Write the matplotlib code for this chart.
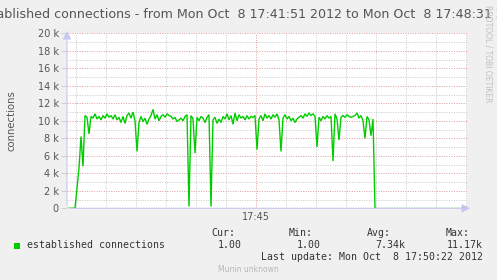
import numpy as np
import matplotlib
matplotlib.use("Agg")
import matplotlib.pyplot as plt

# ---- data ----
title_text = "established connections - from Mon Oct  8 17:41:51 2012 to Mon Oct  8 17:48:31 2012"
y_label = "connections"
series_name = "established connections"
x_span_sec = 400          # 17:41:51 -> 17:48:31
x_tick_sec = [189]        # 17:45:00
x_tick_labels = ["17:45"]
y_ticks = [0, 2, 4, 6, 8, 10, 12, 14, 16, 18, 20]
y_tick_labels = ["0", "2 k", "4 k", "6 k", "8 k", "10 k", "12 k", "14 k", "16 k", "18 k", "20 k"]
step_sec = 2
# values in thousands, sampled every 2 s from 17:41:51
values_k = [
    0, 0, 0, 0, 0,
    2.3, 4.6, 8.2, 4.8, 10.6, 10.4, 8.5, 10.5, 10.3, 10.8,
    10.2, 10.5, 10.1, 10.6, 10.3, 10.8, 10.4, 10.6, 10.2, 10.7,
    10.1, 10.4, 9.8, 10.5, 9.7, 10.6, 10.9, 10.3, 11.0, 10.0,
    6.5, 9.8, 10.5, 9.9, 10.3, 9.6, 10.2, 10.6, 11.3, 10.2,
    10.7, 10.0, 10.5, 10.7, 10.4, 10.8, 10.6, 10.5, 10.2, 10.4,
    9.9, 10.1, 10.3, 10.0, 10.5, 10.7, 0.2, 10.6, 10.2, 6.3,
    10.4, 10.0, 10.5, 10.3, 9.8, 10.4, 10.7, 0.2, 10.1, 10.4,
    9.7, 10.2, 9.8, 10.5, 10.2, 10.8, 10.1, 10.6, 9.6, 10.9,
    10.0, 10.7, 10.3, 10.5, 10.1, 10.6, 10.2, 10.5, 10.4, 10.6,
    6.7, 10.2, 10.6, 10.0, 10.8, 10.3, 10.6, 10.2, 10.7, 10.4,
    10.8, 10.1, 6.5, 10.3, 10.7, 10.2, 10.5, 10.0, 10.3, 9.8,
    10.2, 10.4, 10.6, 10.3, 10.8, 10.5, 10.9, 10.6, 10.8, 10.5,
    7.0, 10.4, 10.0, 10.5, 10.2, 10.6, 10.3, 10.5, 5.4, 10.8,
    10.2, 7.8, 10.4, 10.6, 10.4, 10.7, 10.5, 10.4, 10.5, 10.6,
    10.9, 10.3, 10.6, 10.0, 8.0, 10.5, 10.1, 8.3, 10.2, 0,
]
tail_sec = [308, 400]
tail_k = [0, 0]
legend_heads = ["Cur:", "Min:", "Avg:", "Max:"]
legend_vals = ["1.00", "1.00", "7.34k", "11.17k"]
last_update = "Last update: Mon Oct  8 17:50:22 2012"
footer = "Munin unknown"
watermark = "RRDTOOL / TOBI OETIKER"

# ---- figure ----
W, H = 497, 280
fig = plt.figure(figsize=(W / 100, H / 100), dpi=100)
fig.patch.set_facecolor("#f0f0f0")

L, R, T, B = 67, 467, 33.3, 208.3
ax = fig.add_axes([L / W, 1 - B / H, (R - L) / W, (B - T) / H])
ax.set_facecolor("white")
ax.set_xlim(0, x_span_sec)
ax.set_ylim(0, 20)

# grid
for v in range(1, 20, 2):
    ax.axhline(v, color="#c8c8c8", lw=0.7, ls=(0, (1, 1.5)), zorder=1)
for v in y_ticks[1:]:
    ax.axhline(v, color="#e09a9a", lw=0.7, ls=(0, (1, 1.5)), zorder=1)
for s in range(9, x_span_sec + 1, 30):
    if s in x_tick_sec:
        ax.axvline(s, color="#e09a9a", lw=0.7, ls=(0, (1, 1.5)), zorder=1)
    else:
        ax.axvline(s, color="#c8c8c8", lw=0.7, ls=(0, (1, 1.5)), zorder=1)

for sp in ax.spines.values():
    sp.set_visible(False)

t = np.arange(len(values_k)) * step_sec
ax.plot(t, values_k, color="#00cc00", lw=1.0, zorder=3, solid_joinstyle="miter")
ax.plot([t[-1]] + tail_sec, [values_k[-1]] + tail_k, color="#00cc00", lw=1.0, zorder=3, alpha=0.55)

# axes lines with arrows
ax.annotate("", xy=(x_span_sec + 6, 0), xytext=(0, 0), xycoords="data",
            arrowprops=dict(arrowstyle="-|>,head_length=0.5,head_width=0.25", color="#c8c8f0", lw=0.8),
            annotation_clip=False, zorder=2)
ax.annotate("", xy=(0, 20.6), xytext=(0, 0), xycoords="data",
            arrowprops=dict(arrowstyle="-|>,head_length=0.5,head_width=0.25", color="#c8c8f0", lw=0.8),
            annotation_clip=False, zorder=2)

ax.set_yticks(y_ticks)
ax.set_yticklabels(y_tick_labels)
ax.set_xticks(x_tick_sec)
ax.set_xticklabels(x_tick_labels)
ax.tick_params(axis="y", length=4, width=0.6, color="#c8c8c8", labelsize=7, labelcolor="#555555", pad=2)
ax.tick_params(axis="x", length=0, labelsize=7, labelcolor="#555555", pad=3)
ax.set_ylabel(y_label, fontsize=7.3, color="#555555")
ax.yaxis.set_label_coords(-(L - 17) / (R - L), 0.5)

# title
fig.text(252.5 / W, 1 - 14 / H, title_text, ha="center", va="center", fontsize=9.05, color="#555555")
# watermark
fig.text(488 / W, 1 - 5 / H, watermark, rotation=-90, ha="center", va="top", fontsize=5.5, color="#c0c0c0")

mono = "DejaVu Sans Mono"
fs = 7.1
fig.patches.append(plt.Rectangle((14 / W, 1 - 248.5 / H), 6 / W, 6 / H, transform=fig.transFigure,
                                 facecolor="#00cc00", edgecolor="none"))
fig.text(27 / W, 1 - 245.5 / H, series_name, ha="left", va="center", family=mono, fontsize=fs, color="#333333")
head_right = [235, 313, 391, 470]
val_right = [242, 321, 405, 483]
for hx, h in zip(head_right, legend_heads):
    fig.text(hx / W, 1 - 233.5 / H, h, ha="right", va="center", family=mono, fontsize=fs, color="#333333")
for vx, v in zip(val_right, legend_vals):
    fig.text(vx / W, 1 - 245.5 / H, v, ha="right", va="center", family=mono, fontsize=fs, color="#333333")
fig.text(483 / W, 1 - 257.5 / H, last_update, ha="right", va="center", family=mono, fontsize=fs, color="#333333")
fig.text(248.5 / W, 1 - 269 / H, footer, ha="center", va="center", fontsize=5.5, color="#b8b8b8")

fig.savefig("out.png", dpi=100, facecolor=fig.get_facecolor())
